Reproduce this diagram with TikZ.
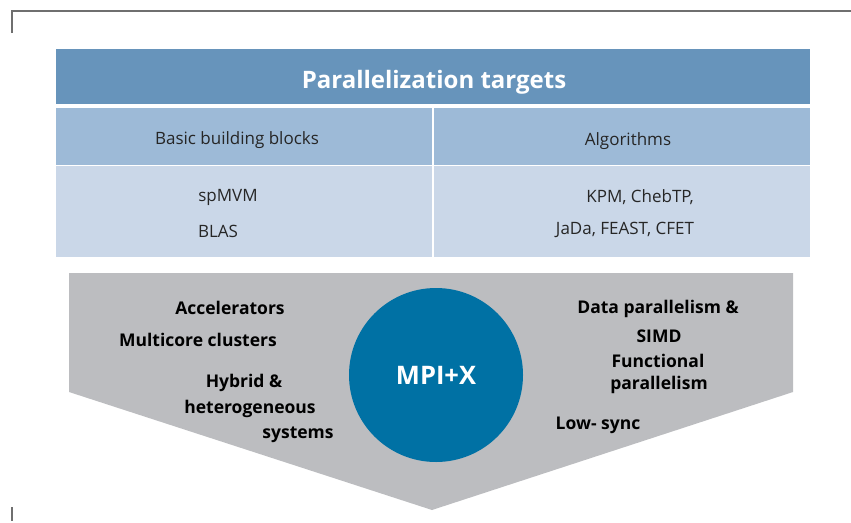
\documentclass[tikz,border=0pt]{standalone}
\usepackage{fontspec}
\setmainfont{Open Sans}
\definecolor{titleblue}{HTML}{6794BB}
\definecolor{headblue}{HTML}{9DBAD7}
\definecolor{cellblue}{HTML}{CAD7E8}
\definecolor{funnelgray}{HTML}{BCBDC0}
\definecolor{hubblue}{HTML}{0071A4}
\definecolor{framegray}{HTML}{6F6F6F}
\begin{document}
\begin{tikzpicture}[x=1pt,y=-1pt,
  cell/.style={text=black!85, font=\fontsize{17}{20}\selectfont, inner sep=0pt, yshift=-2pt},
  tag/.style={text=black, font=\fontsize{17.5}{21}\selectfont\bfseries, inner sep=0pt, align=center, yshift=-2pt},
]
\useasboundingbox (0,0) rectangle (851,522);

% frame marks
\draw[framegray, line width=2pt] (12,33) -- (12,11) -- (851,11);
\draw[framegray, line width=1.2pt] (12,507) -- (12,521);

% table of targets
\fill[titleblue] (56,49) rectangle (810,104);
\fill[headblue] (56,108) rectangle (810,165);
\fill[cellblue] (56,166) rectangle (810,257);
\draw[white, line width=1.5pt] (433,108) -- (433,257);

\node[text=white, font=\fontsize{24}{28}\selectfont\bfseries, inner sep=0pt, yshift=-2pt] (title) at (434,80) {Parallelization targets};
\node[cell] (bbb) at (237,138) {Basic building blocks};
\node[cell] (alg) at (628,139) {Algorithms};
\node[cell] (spmvm) at (228,195) {spMVM};
\node[cell] (blas) at (218,229) {BLAS};
\node[cell] (kpm) at (640,195) {KPM, ChebTP,};
\node[cell] (jada) at (625,228) {JaDa, FEAST, CFET};

% funnel
\fill[funnelgray] (69,273) -- (793,273) -- (793,392) -- (432,510) -- (69,392) -- cycle;

% hub
\node[circle, fill=hubblue, minimum size=174pt, inner sep=0pt,
      text=white, font=\fontsize{25.5}{30}\selectfont\bfseries] (hub) at (436,375) {MPI+X};

% hardware side
\node[tag] (acc) at (230,306) {Accelerators};
\node[tag] (multi) at (198,338) {Multicore clusters};
\node[tag] (hyb1) at (244,381) {Hybrid \&};
\node[tag] (hyb2) at (250,407) {heterogeneous};
\node[tag] (hyb3) at (298,433) {systems};

% parallelism side
\node[tag] (data) at (658,307) {Data parallelism \&};
\node[tag] (simd) at (659,334) {SIMD};
\node[tag] (func1) at (658,359) {Functional};
\node[tag] (func2) at (659,383) {parallelism};
\node[tag] (low) at (598,423) {Low- sync};
\end{tikzpicture}
\end{document}
